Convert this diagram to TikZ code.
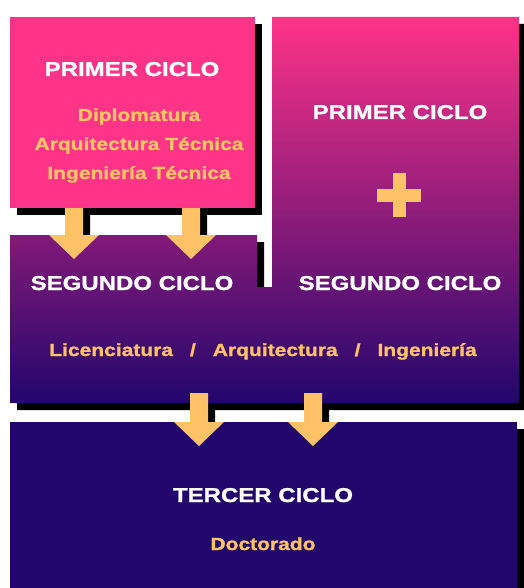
\documentclass[tikz,border=0pt]{standalone}
\usepackage{fontspec}
\setmainfont{Liberation Sans}[FakeStretch=1.2,BoldFeatures={FakeBold=1.2}]
\definecolor{pinkc}{HTML}{FF3388}
\definecolor{navyc}{HTML}{22066C}
\definecolor{arrowc}{HTML}{FFC266}
\newcommand\myarrow[4][]{% cx, top, head start
  \fill[#1] ({#2-9},#3) -- ({#2+9},#3) -- ({#2+9},#4) -- ({#2+25},#4) -- (#2,{#4+24}) -- ({#2-25},#4) -- ({#2-9},#4) -- cycle;}
\begin{document}
\begin{tikzpicture}[x=1pt,y=-1pt,
  titletext/.style={text=white,font=\bfseries\fontsize{20}{24}\selectfont,anchor=base,inner sep=0pt},
  subtext/.style={text=arrowc,font=\bfseries\fontsize{17.5}{21}\selectfont,anchor=base,inner sep=0pt},
  shadowfill/.style={fill=black},
  arrowfill/.style={fill=arrowc}]
\useasboundingbox (0,0) rectangle (523,588);
\fill[white] (0,0) rectangle (523,588);
% box 1 (pink) with shadow
\fill[shadowfill] (17,24) rectangle (262,215);
\fill[pinkc] (10,17) rectangle (255,208);
% top arrow shadows
\myarrow[shadowfill]{81}{208}{235}
\myarrow[shadowfill]{198}{208}{235}
% L-shaped shadow
\fill[shadowfill] (17,242) -- (264,242) -- (264,294) -- (279,294) -- (279,24) -- (526,24) -- (526,410) -- (17,410) -- cycle;
% bottom arrow shadows
\myarrow[shadowfill]{206}{400}{429}
\myarrow[shadowfill]{320}{400}{429}
% L-shaped gradient
\shade[top color=pinkc,bottom color=navyc] (10,235) -- (257,235) -- (257,287) -- (272,287) -- (272,17) -- (519,17) -- (519,403) -- (10,403) -- cycle;
% box 3
\fill[shadowfill] (17,429) rectangle (524,595);
\fill[navyc] (10,422) rectangle (517,595);
% arrows
\coordinate (a1) at (74,208);
\coordinate (a2) at (191,208);
\coordinate (a3) at (199,393);
\coordinate (a4) at (313,393);
\myarrow[arrowfill]{74}{208}{235}
\myarrow[arrowfill]{191}{208}{235}
\myarrow[arrowfill]{199}{393}{422}
\myarrow[arrowfill]{313}{393}{422}
% plus sign
\fill[arrowfill] (377,188.5) rectangle (421,201.5);
\fill[arrowfill] (392.5,173) rectangle (405.5,217);
% texts
\node[titletext] (p1) at (132,76) {PRIMER CICLO};
\node[subtext] (d1) at (139,121) {Diplomatura};
\node[subtext] (d2) at (139,150) {Arquitectura Técnica};
\node[subtext] (d3) at (139,179) {Ingeniería Técnica};
\node[titletext] (p2) at (400,119) {PRIMER CICLO};
\node[titletext] (s1) at (132,290) {SEGUNDO CICLO};
\node[titletext] (s2) at (400,290) {SEGUNDO CICLO};
\node[subtext] (lic) at (263,356) {Licenciatura\hspace{17pt}/\hspace{17pt}Arquitectura\hspace{17pt}/\hspace{17pt}Ingeniería};
\node[titletext] (t3) at (263,502) {TERCER CICLO};
\node[subtext] (doc) at (263,550) {Doctorado};
\end{tikzpicture}
\end{document}
